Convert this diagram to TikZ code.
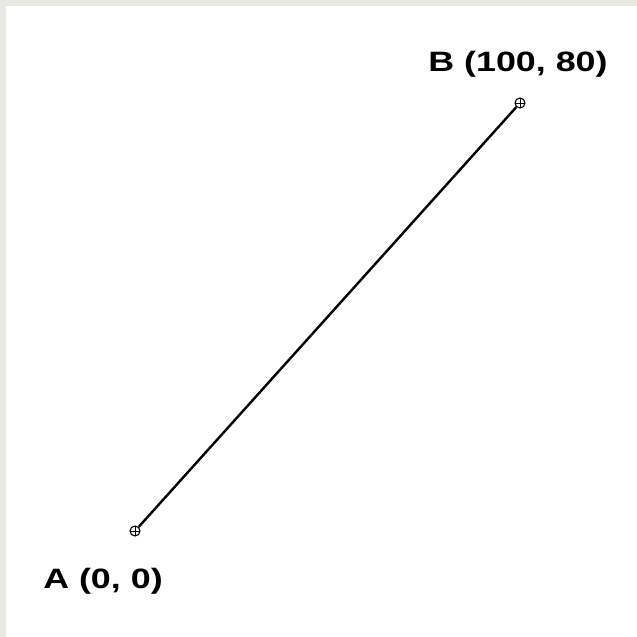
\documentclass[tikz,border=0pt]{standalone}
\usepackage{fontspec}
\usepackage{tikz}
\usetikzlibrary{positioning,calc}
\newfontfamily\lblfont[FakeStretch=1.28]{Liberation Sans Bold}
\definecolor{FrameGray}{RGB}{233,233,227}
\tikzset{
  pnt/.style={circle,draw=black,fill=white,line width=1.1pt,inner sep=0pt,minimum size=10pt,
    path picture={\draw[line width=1pt] (path picture bounding box.north) -- (path picture bounding box.south)
      (path picture bounding box.west) -- (path picture bounding box.east);}},
  seg/.style={draw=black,line width=2.4pt},
  lbl/.style={font=\lblfont\fontsize{28}{30}\selectfont,anchor=base,inner sep=0pt},
}
\begin{document}
\begin{tikzpicture}[x=1pt,y=-1pt]
\fill[FrameGray] (0,0) rectangle (637,637);
\fill[white] (6,6) rectangle (637,637);
\coordinate (a) at (135,531);
\coordinate (b) at (520,103);
\node[pnt] (A) at (a) {};
\node[pnt] (B) at (b) {};
\draw[seg] (A) -- (B);
\node[lbl] (labA) at (103,588) {A (0, 0)};
\node[lbl] (labB) at (518,71.5) {B (100, 80)};
\end{tikzpicture}
\end{document}
